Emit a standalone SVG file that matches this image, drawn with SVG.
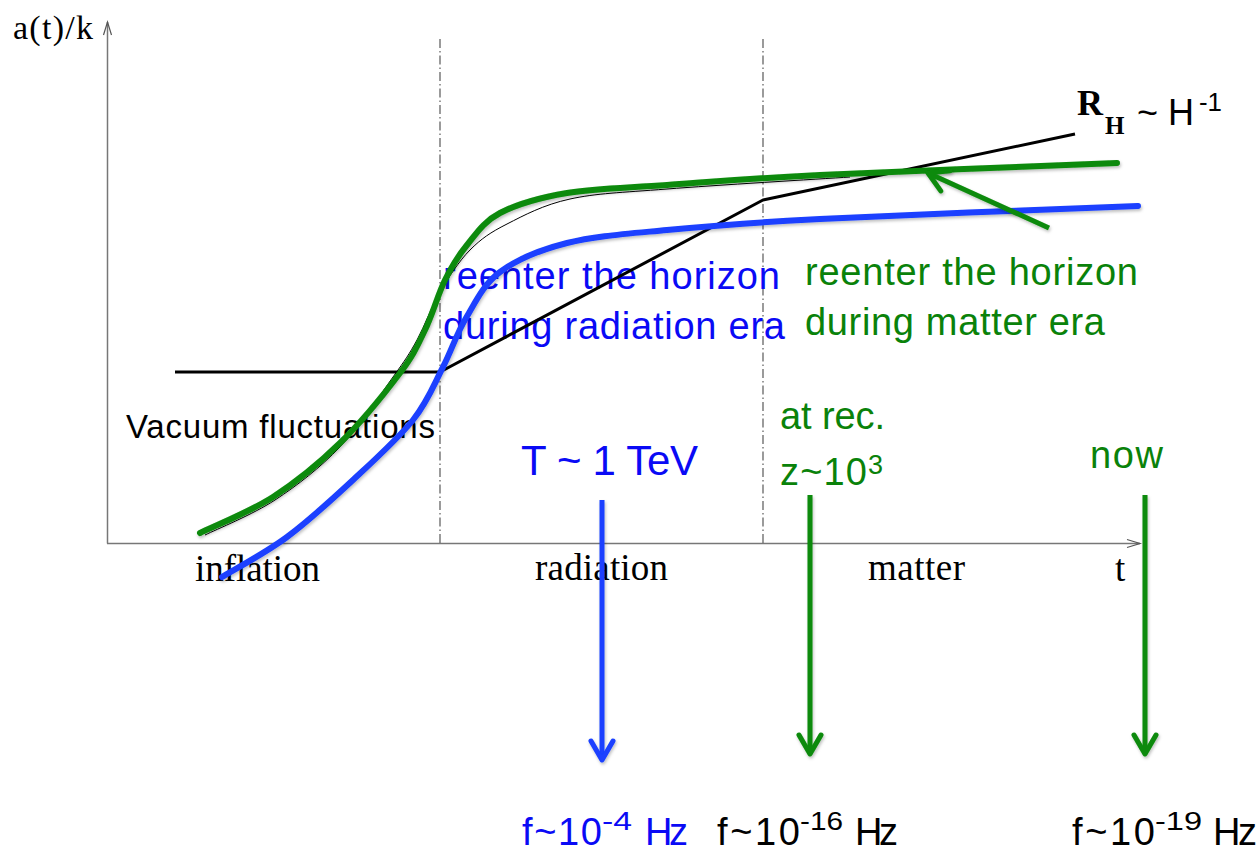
<svg xmlns="http://www.w3.org/2000/svg" width="1260" height="853" viewBox="0 0 1260 853">
<style>
.serif{font-family:"Liberation Serif","Times New Roman",serif;fill:#000}
.sans{font-family:"Liberation Sans",Arial,sans-serif}
.blueT{fill:#0a0af5}
.greenT{fill:#0a820a}
.blackT{fill:#000}
.axis{stroke:#777;stroke-width:1.5;fill:none}
.era{stroke:#666;stroke-width:1.3;stroke-dasharray:9 3 1.5 3;fill:none}
.green{stroke:#0a8a0a;stroke-width:6;fill:none;stroke-linecap:round;stroke-linejoin:round}
.blue{stroke:#1a40ff;stroke-width:6;fill:none;stroke-linecap:round;stroke-linejoin:round}
.rh{stroke:#000;stroke-width:3;fill:none;stroke-linejoin:round}
.thin{stroke:#000;stroke-width:1;fill:none}
</style>
<defs>
<filter id="sh" x="-10%" y="-10%" width="120%" height="130%">
<feDropShadow dx="1" dy="2" stdDeviation="1.5" flood-color="#000" flood-opacity="0.25"/>
</filter>
<marker id="vB" markerUnits="userSpaceOnUse" markerWidth="40" markerHeight="40" viewBox="-30 -20 40 40" refX="0" refY="0" orient="auto" overflow="visible">
<path d="M-19,-11 L0,0 L-19,11" fill="none" stroke="#1a40ff" stroke-width="5" stroke-linecap="round" stroke-linejoin="round"/>
</marker>
<marker id="vG" markerUnits="userSpaceOnUse" markerWidth="40" markerHeight="40" viewBox="-30 -20 40 40" refX="0" refY="0" orient="auto" overflow="visible">
<path d="M-19,-11 L0,0 L-19,11" fill="none" stroke="#0a8a0a" stroke-width="5" stroke-linecap="round" stroke-linejoin="round"/>
</marker>
<marker id="vA" markerUnits="userSpaceOnUse" markerWidth="20" markerHeight="20" viewBox="-15 -10 20 20" refX="0" refY="0" orient="auto" overflow="visible">
<path d="M-13,-4 L0,0 L-13,4" fill="none" stroke="#555" stroke-width="1.2"/>
</marker>
</defs>
<rect width="1260" height="853" fill="#fff"/>

<g id="axes">
<line class="axis" x1="107.5" y1="543.5" x2="107.5" y2="22" marker-end="url(#vA)"/>
<line class="axis" x1="107" y1="543.5" x2="1140" y2="543.5" marker-end="url(#vA)"/>
<line class="era" x1="440" y1="39" x2="440" y2="543"/>
<line class="era" x1="763" y1="39" x2="763" y2="543"/>
</g>

<g id="labels">
<text class="serif" x="13" y="39" font-size="34" textLength="80">a(t)/k</text>
<text class="serif" x="195" y="581" font-size="37" textLength="125">inflation</text>
<text class="serif" x="535" y="580" font-size="37" textLength="133">radiation</text>
<text class="serif" x="868" y="580" font-size="37" textLength="97">matter</text>
<text class="serif" x="1115" y="581" font-size="37">t</text>
<text class="serif" x="1077" y="115" font-size="36" font-weight="bold" textLength="33">R</text>
<text class="serif" x="1105" y="134" font-size="25" font-weight="bold">H</text>
<text class="sans blackT" x="1137" y="125" font-size="36">~ H</text>
<text class="sans blackT" x="1199" y="111" font-size="26" textLength="23" lengthAdjust="spacingAndGlyphs">-1</text>
<text class="sans blackT" x="126" y="438" font-size="33" textLength="309">Vacuum fluctuations</text>
<text class="sans blueT" x="443" y="289" font-size="38" textLength="337">reenter the horizon</text>
<text class="sans blueT" x="443" y="339" font-size="38" textLength="342">during radiation era</text>
<text class="sans greenT" x="805" y="285" font-size="38" textLength="333">reenter the horizon</text>
<text class="sans greenT" x="805" y="335" font-size="38" textLength="300">during matter era</text>
<text class="sans blueT" x="521" y="475" font-size="42" textLength="177">T ~ 1 TeV</text>
<text class="sans greenT" x="780" y="429" font-size="38" textLength="105">at rec.</text>
<text class="sans greenT" x="780" y="485" font-size="38" textLength="87">z~10</text>
<text class="sans greenT" x="868" y="474" font-size="27" textLength="17">3</text>
<text class="sans greenT" x="1090" y="468" font-size="38" textLength="73">now</text>
<text class="sans blueT" font-size="38"><tspan x="522" y="845" textLength="80">f~10</tspan><tspan x="602" y="830" font-size="26" textLength="30" lengthAdjust="spacingAndGlyphs">-4</tspan><tspan x="645" y="845" textLength="43">Hz</tspan></text>
<text class="sans blackT" font-size="38"><tspan x="717" y="845" textLength="83">f~10</tspan><tspan x="800" y="830" font-size="26" textLength="43" lengthAdjust="spacingAndGlyphs">-16</tspan><tspan x="855" y="845" textLength="43">Hz</tspan></text>
<text class="sans blackT" font-size="38"><tspan x="1072" y="845" textLength="83">f~10</tspan><tspan x="1155" y="830" font-size="26" textLength="47" lengthAdjust="spacingAndGlyphs">-19</tspan><tspan x="1213" y="845" textLength="44">Hz</tspan></text>
</g>

<g id="curves">
<path class="thin" d="M205,535 C216.7,529.2 252.5,514.7 275,500 C297.5,485.3 320.3,467.5 340,447 C359.7,426.5 380.2,394.8 393,377 C405.8,359.2 409.2,354.2 417,340 C424.8,325.8 431.2,307 440,292 C448.8,277 458.8,261.3 470,250 C481.2,238.7 490.3,232.5 507,224 C523.7,215.5 543.3,204.8 570,199 C596.7,193.2 620.3,192.7 667,189 C713.7,185.3 819.5,179 850,177"/>
<path class="rh" d="M175,372 L440,372 L763,200 L1075,134"/>
<path class="green" filter="url(#sh)" d="M200,533 C212.2,527 249.7,512 273,497 C296.3,482 318.8,463.7 340,443 C361.2,422.3 385.8,391.8 400,373 C414.2,354.2 417.5,345.5 425,330 C432.5,314.5 438,294.2 445,280 C452,265.8 457.8,256.2 467,245 C476.2,233.8 483.3,221.7 500,213 C516.7,204.3 539.2,197.7 567,193 C594.8,188.3 624.8,188 667,185 C709.2,182 745,178.7 820,175 C895,171.3 1067.5,165 1117,163"/>
<path class="blue" filter="url(#sh)" d="M222,577 C232.8,570.3 265.2,553.2 287,537 C308.8,520.8 332,499.5 353,480 C374,460.5 398,438.8 413,420 C428,401.2 434.2,384 443,367 C451.8,350 456.5,333.8 466,318 C475.5,302.2 483.2,284.5 500,272 C516.8,259.5 539.2,250 567,243 C594.8,236 624.8,234 667,230 C709.2,226 741.5,223 820,219 C898.5,215 1085,208.2 1138,206"/>
</g>

<g id="arrows" filter="url(#sh)">
<line x1="1049" y1="228" x2="928" y2="173" stroke="#0a8a0a" stroke-width="5" marker-end="url(#vG)"/>
<line x1="602" y1="500" x2="602" y2="760" stroke="#1a40ff" stroke-width="5" marker-end="url(#vB)"/>
<line x1="810" y1="495" x2="810" y2="754" stroke="#0a8a0a" stroke-width="5" marker-end="url(#vG)"/>
<line x1="1145" y1="495" x2="1145" y2="754" stroke="#0a8a0a" stroke-width="5" marker-end="url(#vG)"/>
</g>
</svg>
